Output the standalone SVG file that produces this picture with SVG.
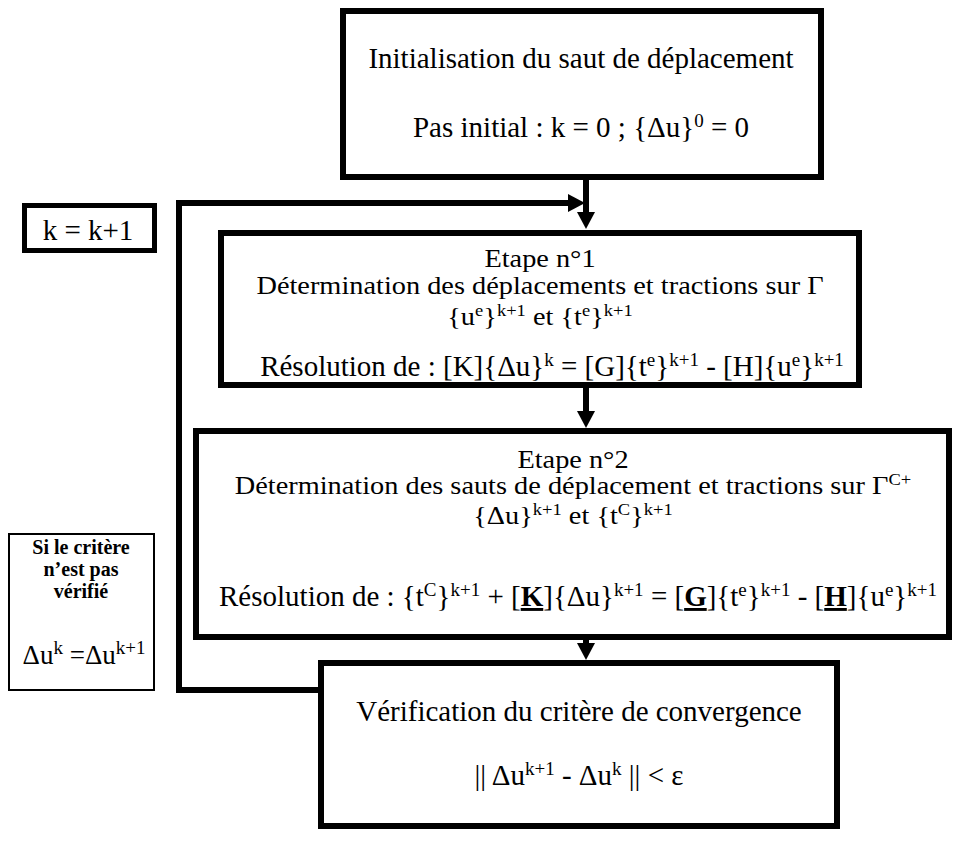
<svg xmlns="http://www.w3.org/2000/svg" width="956" height="841" viewBox="0 0 956 841">
<style>
  .box{fill:#fff;stroke:#000;stroke-width:6}
  .thin{fill:#fff;stroke:#000;stroke-width:2}
  .kbox{fill:#fff;stroke:#000;stroke-width:5}
  text{font-family:"Liberation Serif","Times New Roman",serif;font-size:29px;fill:#000}
  .sup{font-size:19px}
  .e{font-size:26px}
  .e .sup{font-size:17px}
  .b{font-weight:bold;font-size:20px}
  .u{font-weight:bold;text-decoration:underline}
  .line{fill:none;stroke:#000;stroke-width:6;stroke-linejoin:miter;stroke-linecap:butt}
  .head{fill:#000}
</style>
<rect width="956" height="841" fill="#fff"/>
<g id="connectors">
  <line class="line" x1="586" y1="180" x2="586" y2="214"/>
  <polygon class="head" points="577,212 595,212 586,229"/>
  <line class="line" x1="586" y1="388" x2="586" y2="413"/>
  <polygon class="head" points="577,411 595,411 586,428"/>
  <line class="line" x1="586" y1="640" x2="586" y2="645"/>
  <polygon class="head" points="577,643 595,643 586,660"/>
  <polyline class="line" points="320,690 179,690 179,203 570,203"/>
  <polygon class="head" points="568,194 568,212 585,203"/>
</g>
<g id="init">
  <rect class="box" x="343" y="11" width="478" height="166"/>
  <text x="581" y="68" text-anchor="middle">Initialisation du saut de déplacement</text>
  <text x="581" y="137" text-anchor="middle">Pas initial : k = 0 ; {Δu}<tspan class="sup" dy="-10">0</tspan><tspan dy="10"> = 0</tspan></text>
</g>
<g id="kinc">
  <rect class="kbox" x="24.5" y="205.5" width="130" height="45"/>
  <text x="88" y="240" text-anchor="middle">k = k+1</text>
</g>
<g id="etape1">
  <rect class="box" x="221" y="233" width="638" height="152"/>
  <text class="e" transform="translate(540,267) scale(1.09,1)" text-anchor="middle">Etape n°1</text>
  <text class="e" transform="translate(540,294) scale(1.09,1)" text-anchor="middle">Détermination des déplacements et tractions sur Γ</text>
  <text class="e" transform="translate(540,325) scale(1.09,1)" text-anchor="middle">{u<tspan class="sup" dy="-9">e</tspan><tspan dy="9">}</tspan><tspan class="sup" dy="-9">k+1</tspan><tspan dy="9"> et {t</tspan><tspan class="sup" dy="-9">e</tspan><tspan dy="9">}</tspan><tspan class="sup" dy="-9">k+1</tspan></text>
  <text x="552" y="376" text-anchor="middle">Résolution de : [K]{Δu}<tspan class="sup" dy="-10">k</tspan><tspan dy="10"> = [G]{t</tspan><tspan class="sup" dy="-10">e</tspan><tspan dy="10">}</tspan><tspan class="sup" dy="-10">k+1</tspan><tspan dy="10"> - [H]{u</tspan><tspan class="sup" dy="-10">e</tspan><tspan dy="10">}</tspan><tspan class="sup" dy="-10">k+1</tspan></text>
</g>
<g id="etape2">
  <rect class="box" x="196" y="431" width="753" height="206"/>
  <text class="e" transform="translate(573,468) scale(1.09,1)" text-anchor="middle">Etape n°2</text>
  <text class="e" transform="translate(573,494) scale(1.09,1)" text-anchor="middle">Détermination des sauts de déplacement et tractions sur Γ<tspan class="sup" dy="-9">C+</tspan></text>
  <text class="e" transform="translate(573,524) scale(1.09,1)" text-anchor="middle">{Δu}<tspan class="sup" dy="-9">k+1</tspan><tspan dy="9"> et {t</tspan><tspan class="sup" dy="-9">C</tspan><tspan dy="9">}</tspan><tspan class="sup" dy="-9">k+1</tspan></text>
  <text x="578" y="606" text-anchor="middle">Résolution de : {t<tspan class="sup" dy="-10">C</tspan><tspan dy="10">}</tspan><tspan class="sup" dy="-10">k+1</tspan><tspan dy="10"> + [</tspan><tspan class="u">K</tspan>]{Δu}<tspan class="sup" dy="-10">k+1</tspan><tspan dy="10"> = [</tspan><tspan class="u">G</tspan>]{t<tspan class="sup" dy="-10">e</tspan><tspan dy="10">}</tspan><tspan class="sup" dy="-10">k+1</tspan><tspan dy="10"> - [</tspan><tspan class="u">H</tspan>]{u<tspan class="sup" dy="-10">e</tspan><tspan dy="10">}</tspan><tspan class="sup" dy="-10">k+1</tspan></text>
</g>
<g id="verif">
  <rect class="box" x="321" y="663" width="516" height="163"/>
  <text x="579" y="721" text-anchor="middle">Vérification du critère de convergence</text>
  <text x="579" y="785" text-anchor="middle">|| Δu<tspan class="sup" dy="-10">k+1</tspan><tspan dy="10"> - Δu</tspan><tspan class="sup" dy="-10">k</tspan><tspan dy="10"> || &lt; ε</tspan></text>
</g>
<g id="condition">
  <rect class="thin" x="9" y="534" width="145" height="156"/>
  <text class="b" x="81" y="554" text-anchor="middle">Si le critère</text>
  <text class="b" x="81" y="576" text-anchor="middle">n’est pas</text>
  <text class="b" x="81" y="598" text-anchor="middle">vérifié</text>
  <text x="84" y="664" text-anchor="middle" style="font-size:27px">Δu<tspan class="sup" dy="-10">k</tspan><tspan dy="10"> =Δu</tspan><tspan class="sup" dy="-10">k+1</tspan></text>
</g>
</svg>
